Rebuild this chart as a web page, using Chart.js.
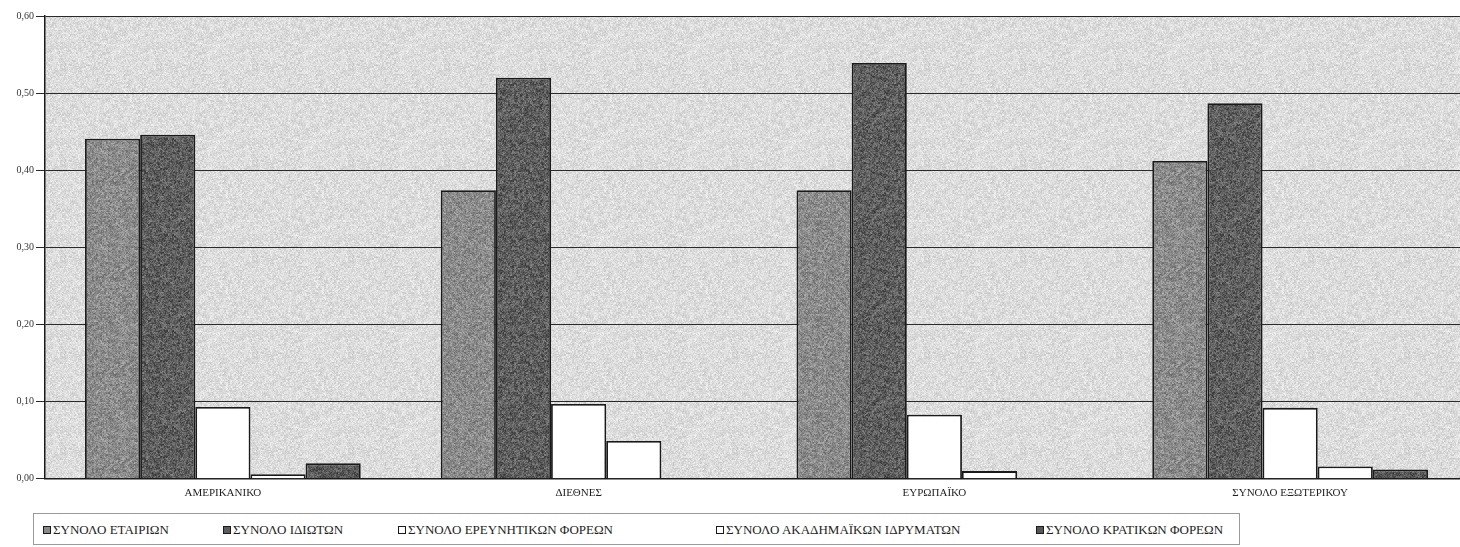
<!DOCTYPE html>
<html>
<head>
<meta charset="utf-8">
<script src="https://cdn.jsdelivr.net/npm/chart.js@4.4.0/dist/chart.umd.min.js"></script>
<style>
  html, body { margin:0; padding:0; background:#ffffff; overflow:hidden; width:1460px; height:547px; }
  #wrap { position:absolute; left:0; top:0; width:1468px; height:508px; }
  #legend { position:absolute; left:33px; top:513px; width:1207px; height:32px; border:1px solid #9a9a9a; box-sizing:border-box;
            font-family:"Liberation Serif","DejaVu Serif",serif; font-size:13px; color:#1e1e1e; }
  .li { position:absolute; top:9px; white-space:nowrap; line-height:13px; }
  .mk { display:inline-block; width:8px; height:8px; box-sizing:border-box; border:1.5px solid #1a1a1a; margin-right:2px; vertical-align:0px; }
</style>
</head>
<body>
<div id="wrap"><canvas id="c" width="1468" height="508"></canvas></div>
<div id="legend"></div>
<script>
// ---- data ----
const categories = ["ΑΜΕΡΙΚΑΝΙΚΟ", "ΔΙΕΘΝΕΣ", "ΕΥΡΩΠΑΪΚΟ", "ΣΥΝΟΛΟ ΕΞΩΤΕΡΙΚΟΥ"];
const seriesNames = ["ΣΥΝΟΛΟ ΕΤΑΙΡΙΩΝ", "ΣΥΝΟΛΟ ΙΔΙΩΤΩΝ", "ΣΥΝΟΛΟ ΕΡΕΥΝΗΤΙΚΩΝ ΦΟΡΕΩΝ", "ΣΥΝΟΛΟ ΑΚΑΔΗΜΑΪΚΩΝ ΙΔΡΥΜΑΤΩΝ", "ΣΥΝΟΛΟ ΚΡΑΤΙΚΩΝ ΦΟΡΕΩΝ"];
const etairion     = [0.441, 0.374, 0.374, 0.412];
const idioton      = [0.446, 0.520, 0.539, 0.487];
const ereunitikon  = [0.093, 0.097, 0.083, 0.092];
const akadimaikon  = [0.006, 0.049, 0.010, 0.016];
const kratikon     = [0.020, 0.000, 0.000, 0.012];
const yTicks = [0, 0.1, 0.2, 0.3, 0.4, 0.5, 0.6];

// ---- styling ----
function hash(x, y, s) {
  const v = Math.sin(x * 12.9898 + y * 78.233 + s * 37.719) * 43758.5453;
  return v - Math.floor(v);
}
function texture(base, amp, seed) {
  const n = 96;
  const cv = document.createElement('canvas');
  cv.width = n; cv.height = n;
  const g = cv.getContext('2d');
  const img = g.createImageData(n, n);
  for (let y = 0; y < n; y++) for (let x = 0; x < n; x++) {
    const a = hash(x, y, seed), b = hash(x >> 1, y >> 1, seed + 3);
    const v = Math.max(0, Math.min(255, base + (a - 0.5) * amp + (b - 0.5) * amp * 0.8));
    const i = (y * n + x) * 4;
    img.data[i] = img.data[i + 1] = img.data[i + 2] = v; img.data[i + 3] = 255;
  }
  g.putImageData(img, 0, 0);
  return g.createPattern(cv, 'repeat');
}
const bgPattern = texture(220, 26, 1);
const fills = [texture(140, 45, 2), texture(94, 50, 4), '#ffffff', '#ffffff', texture(88, 45, 6)];
const legendFills = ['#8a8a8a', '#5c5c5c', '#ffffff', '#ffffff', '#575757'];
const legendX = [9, 189, 364, 682, 1002];

const valuesBySeries = [etairion, idioton, ereunitikon, akadimaikon, kratikon];
const serif = '"Liberation Serif","DejaVu Serif",serif';

const bgPlugin = {
  id: 'bg',
  beforeDraw(chart) {
    const a = chart.chartArea, ctx = chart.ctx;
    ctx.save();
    ctx.fillStyle = bgPattern;
    ctx.fillRect(a.left, a.top, a.right - a.left, a.bottom - a.top);
    ctx.restore();
  }
};

new Chart(document.getElementById('c'), {
  type: 'bar',
  data: {
    labels: categories,
    datasets: valuesBySeries.map((vals, i) => ({
      label: seriesNames[i],
      data: vals,
      backgroundColor: fills[i],
      borderColor: '#1a1a1a',
      borderWidth: 1.8,
      categoryPercentage: 0.775,
      barPercentage: 1.0
    }))
  },
  options: {
    responsive: false,
    animation: false,
    layout: { padding: { top: 16, right: 0, bottom: 0, left: 0 } },
    plugins: { legend: { display: false }, tooltip: { enabled: false } },
    scales: {
      x: {
        grid: { display: false, drawTicks: false },
        border: { display: true, color: '#1a1a1a', width: 1.5 },
        ticks: { color: '#1e1e1e', font: { family: serif, size: 11 }, padding: 8 }
      },
      y: {
        min: 0, max: 0.6,
        afterFit(s) { s.width = 45; },
        afterBuildTicks(s) { s.ticks = yTicks.map(v => ({ value: v })); },
        grid: { color: '#2a2a2a', lineWidth: 1, tickLength: 9, drawTicks: true },
        border: { display: true, color: '#1a1a1a', width: 1.5 },
        ticks: {
          color: '#333333', font: { family: serif, size: 10 }, padding: 2,
          callback: v => v.toFixed(2).replace('.', ',')
        }
      }
    }
  },
  plugins: [bgPlugin]
});

// HTML legend built from the series names
const lg = document.getElementById('legend');
seriesNames.forEach((name, i) => {
  const d = document.createElement('div');
  d.className = 'li';
  d.style.left = legendX[i] + 'px';
  const m = document.createElement('span');
  m.className = 'mk';
  m.style.background = legendFills[i];
  d.appendChild(m);
  d.appendChild(document.createTextNode(name));
  lg.appendChild(d);
});
</script>
</body>
</html>
